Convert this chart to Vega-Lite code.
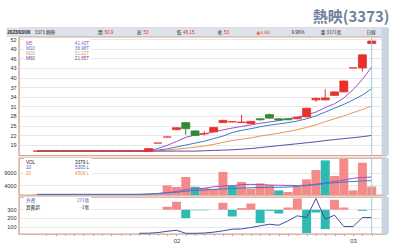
{
"$schema": "https://vega.github.io/schema/vega-lite/v6.json",
"background": "white",
"padding": {"left": 0, "top": 9, "right": 0, "bottom": 0},
"title": {"text": "熱映(3373)", "anchor": "end", "font": "Noto Sans CJK TC", "fontSize": 15, "fontWeight": "bold", "color": "#6f819c", "offset": 2},
"spacing": 2,
"bounds": "flush",
"config": {
  "view": {"stroke": "#d4a48e", "strokeWidth": 1.4},
  "axis": {"labelFont": "Liberation Sans", "labelFontSize": 5.5, "labelColor": "#333333", "gridColor": "#e2e2e2", "gridWidth": 0.8, "labelOverlap": false},
  "text": {"font": "Liberation Sans", "fontSize": 4.6, "baseline": "middle"}
},
"datasets": {"p": [
{"d":0,"o":17,"h":17,"l":17,"c":17,"m5":17,"m10":17,"m20":17,"m60":17,"vol":220,"vd":"up","v10":250,"v20":250,"fx":null,"net":null},
{"d":1,"o":17,"h":17,"l":17,"c":17,"m5":17,"m10":17,"m20":17,"m60":17,"vol":300,"vd":"up","v10":250,"v20":250,"fx":null,"net":null},
{"d":2,"o":17,"h":17,"l":17,"c":17,"m5":17,"m10":17,"m20":17,"m60":17,"vol":180,"vd":"up","v10":250,"v20":250,"fx":null,"net":null},
{"d":3,"o":17,"h":17,"l":17,"c":17,"m5":17,"m10":17,"m20":17,"m60":17,"vol":260,"vd":"up","v10":250,"v20":250,"fx":null,"net":null},
{"d":4,"o":17,"h":17,"l":17,"c":17,"m5":17,"m10":17,"m20":17,"m60":17,"vol":240,"vd":"up","v10":250,"v20":250,"fx":null,"net":null},
{"d":5,"o":17,"h":17,"l":17,"c":17,"m5":17,"m10":17,"m20":17,"m60":17,"vol":200,"vd":"up","v10":250,"v20":250,"fx":null,"net":null},
{"d":6,"o":17,"h":17,"l":17,"c":17,"m5":17,"m10":17,"m20":17,"m60":17,"vol":310,"vd":"up","v10":250,"v20":250,"fx":null,"net":null},
{"d":7,"o":17,"h":17,"l":17,"c":17,"m5":17,"m10":17,"m20":17,"m60":17,"vol":280,"vd":"up","v10":250,"v20":250,"fx":null,"net":null},
{"d":8,"o":17,"h":17,"l":17,"c":17,"m5":17,"m10":17,"m20":17,"m60":17,"vol":230,"vd":"up","v10":250,"v20":250,"fx":null,"net":null},
{"d":9,"o":17,"h":17,"l":17,"c":17,"m5":17,"m10":17,"m20":17,"m60":17,"vol":260,"vd":"up","v10":250,"v20":250,"fx":null,"net":null},
{"d":10,"o":17,"h":17,"l":17,"c":17,"m5":17,"m10":17,"m20":17,"m60":17,"vol":300,"vd":"up","v10":250,"v20":250,"fx":null,"net":null},
{"d":11,"o":17,"h":17,"l":17,"c":17,"m5":17,"m10":17,"m20":17,"m60":17,"vol":250,"vd":"up","v10":260,"v20":260,"fx":22,"net":null},
{"d":12,"o":16.9,"h":17.8,"l":16.9,"c":17.8,"m5":17.2,"m10":17.0,"m20":17.0,"m60":17.0,"vol":300,"vd":"up","v10":350,"v20":400,"fx":23,"net":null},
{"d":13,"o":19.5,"h":19.5,"l":19.5,"c":19.5,"m5":17.8,"m10":17.3,"m20":17.1,"m60":17.0,"vol":420,"vd":"up","v10":600,"v20":600,"fx":30,"net":null},
{"d":14,"o":21.4,"h":21.6,"l":21.3,"c":21.4,"m5":18.8,"m10":17.7,"m20":17.3,"m60":17.0,"vol":3840,"vd":"up","v10":1000,"v20":850,"fx":45,"net":30},
{"d":15,"o":23.7,"h":24.4,"l":23.6,"c":24.3,"m5":20.0,"m10":18.3,"m20":17.6,"m60":17.0,"vol":3200,"vd":"up","v10":1400,"v20":1100,"fx":57,"net":80},
{"d":16,"o":25.9,"h":25.9,"l":22.1,"c":24.0,"m5":21.3,"m10":18.9,"m20":17.9,"m60":17.0,"vol":7200,"vd":"up","v10":2200,"v20":1500,"fx":22,"net":-83},
{"d":17,"o":23.3,"h":23.4,"l":21.8,"c":21.9,"m5":22.0,"m10":19.5,"m20":18.2,"m60":17.0,"vol":3300,"vd":"down","v10":2500,"v20":1800,"fx":22,"net":-5},
{"d":18,"o":22.4,"h":23.2,"l":21.9,"c":22.5,"m5":22.4,"m10":20.1,"m20":18.6,"m60":17.1,"vol":2900,"vd":"up","v10":2650,"v20":2000,"fx":25,"net":-5},
{"d":19,"o":23.0,"h":24.5,"l":22.9,"c":24.4,"m5":23.0,"m10":20.9,"m20":19.1,"m60":17.2,"vol":2500,"vd":"up","v10":3300,"v20":2200,"fx":35,"net":null},
{"d":20,"o":25.9,"h":26.7,"l":25.8,"c":26.6,"m5":23.6,"m10":21.7,"m20":19.7,"m60":17.3,"vol":9200,"vd":"up","v10":3600,"v20":2450,"fx":50,"net":70},
{"d":21,"o":26.1,"h":26.3,"l":26.0,"c":26.2,"m5":24.2,"m10":22.8,"m20":20.3,"m60":17.4,"vol":3840,"vd":"down","v10":3700,"v20":2600,"fx":69,"net":-67},
{"d":22,"o":25.9,"h":28.3,"l":25.9,"c":26.1,"m5":24.7,"m10":23.5,"m20":20.7,"m60":17.6,"vol":5200,"vd":"up","v10":4200,"v20":2750,"fx":72,"net":17},
{"d":23,"o":25.6,"h":26.4,"l":25.5,"c":26.3,"m5":25.2,"m10":24.0,"m20":21.1,"m60":17.8,"vol":2500,"vd":"up","v10":4250,"v20":2900,"fx":88,"net":63},
{"d":24,"o":27.1,"h":27.3,"l":26.5,"c":26.8,"m5":25.7,"m10":24.6,"m20":21.7,"m60":18.1,"vol":4640,"vd":"up","v10":4200,"v20":3000,"fx":108,"net":-133},
{"d":25,"o":28.4,"h":28.7,"l":27.2,"c":27.3,"m5":26.1,"m10":25.1,"m20":22.1,"m60":18.4,"vol":4000,"vd":"up","v10":4000,"v20":3050,"fx":126,"net":-10},
{"d":26,"o":27.1,"h":27.2,"l":26.6,"c":26.7,"m5":26.5,"m10":25.5,"m20":22.6,"m60":18.7,"vol":1840,"vd":"down","v10":3900,"v20":3100,"fx":115,"net":-37},
{"d":27,"o":27.1,"h":27.2,"l":26.6,"c":26.8,"m5":27.1,"m10":25.9,"m20":23.1,"m60":19.0,"vol":1200,"vd":"up","v10":3850,"v20":3200,"fx":165,"net":23},
{"d":28,"o":27.1,"h":27.7,"l":27.0,"c":27.6,"m5":27.6,"m10":26.4,"m20":23.7,"m60":19.3,"vol":3200,"vd":"up","v10":3800,"v20":3400,"fx":223,"net":113},
{"d":29,"o":27.7,"h":30.5,"l":27.6,"c":30.4,"m5":28.3,"m10":27.1,"m20":24.4,"m60":19.6,"vol":6240,"vd":"up","v10":3900,"v20":3800,"fx":203,"net":-233},
{"d":30,"o":33.0,"h":33.7,"l":32.4,"c":33.5,"m5":29.2,"m10":28.0,"m20":25.2,"m60":19.9,"vol":10000,"vd":"up","v10":4300,"v20":4100,"fx":422,"net":-27},
{"d":31,"o":33.0,"h":36.3,"l":32.9,"c":33.6,"m5":30.6,"m10":29.2,"m20":26.2,"m60":20.3,"vol":13840,"vd":"down","v10":4900,"v20":4600,"fx":184,"net":-193},
{"d":32,"o":34.4,"h":35.6,"l":34.3,"c":35.5,"m5":31.8,"m10":30.4,"m20":27.1,"m60":20.6,"vol":7600,"vd":"up","v10":5400,"v20":4900,"fx":230,"net":100},
{"d":33,"o":35.5,"h":39.0,"l":35.4,"c":38.9,"m5":33.6,"m10":31.6,"m20":28.0,"m60":20.9,"vol":14500,"vd":"up","v10":6000,"v20":5200,"fx":100,"net":23},
{"d":34,"o":43.0,"h":43.0,"l":43.0,"c":43.0,"m5":36.2,"m10":33.0,"m20":29.0,"m60":21.2,"vol":1840,"vd":"up","v10":6700,"v20":5400,"fx":100,"net":null},
{"d":35,"o":43.0,"h":47.2,"l":41.9,"c":47.1,"m5":39.4,"m10":34.5,"m20":30.0,"m60":21.5,"vol":12900,"vd":"up","v10":7000,"v20":5650,"fx":203,"net":-10},
{"d":36,"o":50.6,"h":51.4,"l":50.5,"c":51.4,"m5":43.3,"m10":36.5,"m20":31.1,"m60":21.9,"vol":3379,"vd":"up","v10":7200,"v20":5700,"fx":203,"net":-1}
]},
"vconcat": [
{
 "width": 367, "height": 127.5,
 "layer": [
  {"data": {"name": "p"}, "mark": {"type": "rule", "strokeWidth": 1},
   "encoding": {"x": {"field": "d", "type": "quantitative", "scale": {"domain": [-1.4, 37], "zero": false, "nice": false}, "axis": null},
    "y": {"field": "l", "type": "quantitative", "scale": {"domain": [15.625, 55.47], "zero": false, "nice": false},
      "axis": {"orient": "left", "title": null, "values": [19, 22, 25, 28, 31, 34, 37, 40, 43, 46, 49, 52], "tickCount": 40, "labelOverlap": false, "grid": true, "domain": false, "ticks": false, "labelPadding": 3, "minExtent": 18, "maxExtent": 18}},
    "y2": {"field": "h"},
    "stroke": {"value": "transparent"}}},
  {"data": {"values": [{}]}, "mark": {"type": "rect", "color": "white"},
   "encoding": {"x": {"datum": -1.4, "type": "quantitative", "axis": null}, "x2": {"datum": 5.86},
    "y": {"datum": 45.3, "type": "quantitative", "axis": {"title": null, "labelOverlap": false}}, "y2": {"datum": 52.66}}},
  {"data": {"name": "p"}, "transform": [{"fold": ["m5", "m10", "m20", "m60"], "as": ["k", "v"]}],
   "mark": {"type": "line", "strokeWidth": 1},
   "encoding": {"x": {"field": "d", "type": "quantitative", "axis": null},
    "y": {"field": "v", "type": "quantitative", "axis": {"title": null, "labelOverlap": false}},
    "stroke": {"field": "k", "type": "nominal", "scale": {"domain": ["m5", "m10", "m20", "m60"], "range": ["#a052c2", "#3b7cc4", "#ec9455", "#5b4ea5"]}, "legend": null}}},
  {"data": {"name": "p"}, "mark": {"type": "rule", "strokeWidth": 1},
   "encoding": {"x": {"field": "d", "type": "quantitative", "axis": null},
    "y": {"field": "l", "type": "quantitative", "axis": {"title": null, "labelOverlap": false}},
    "y2": {"field": "h"},
    "stroke": {"condition": {"test": "datum.c >= datum.o", "value": "#e8312c"}, "value": "#2f8a3a"}}},
  {"data": {"name": "p"}, "mark": {"type": "bar", "size": 8, "strokeWidth": 0.8},
   "encoding": {"x": {"field": "d", "type": "quantitative", "axis": null},
    "y": {"field": "o", "type": "quantitative", "axis": {"title": null, "labelOverlap": false}},
    "y2": {"field": "c"},
    "fill": {"condition": {"test": "datum.c >= datum.o", "value": "#e8312c"}, "value": "#2f8a3a"},
    "stroke": {"condition": {"test": "datum.c >= datum.o", "value": "#e8312c"}, "value": "#2f8a3a"}}},
  {"data": {"values": [{}]}, "mark": {"type": "rule", "color": "#9ad0e2", "strokeWidth": 1},
   "encoding": {"x": {"datum": 36, "type": "quantitative", "axis": null}}},
  {"data": {"values": [{}]}, "mark": {"type": "rect", "color": "#dde3ec", "clip": false},
   "encoding": {"x": {"datum": -3.28, "type": "quantitative", "axis": null}, "x2": {"datum": 37.84},
    "y": {"datum": 52.66, "type": "quantitative", "axis": {"title": null, "labelOverlap": false}}, "y2": {"datum": 55.6}}},
  {"data": {"values": [{}]}, "mark": {"type": "rule", "color": "#d4a48e", "strokeWidth": 1.2},
   "encoding": {"y": {"datum": 52.66, "type": "quantitative", "axis": {"title": null, "labelOverlap": false}}}},
  {"data": {"values": [{}]}, "mark": {"type": "rect", "color": "#c9d5e3", "clip": false},
   "encoding": {"x": {"datum": 37.07, "type": "quantitative", "axis": null}, "x2": {"datum": 37.84}}},
  {"data": {"values": [{}]}, "mark": {"type": "text", "text": "2023/03/06", "align": "left", "fontWeight": "bold", "color": "#222222"},
   "encoding": {"x": {"datum": -3.2, "type": "quantitative", "axis": null}, "y": {"datum": 54.0, "type": "quantitative", "axis": {"title": null, "labelOverlap": false}}}},
  {"data": {"values": [{}]}, "mark": {"type": "text", "text": "3373 熱映", "align": "left", "font": "Noto Sans CJK TC", "color": "#222222"},
   "encoding": {"x": {"datum": -0.25, "type": "quantitative", "axis": null}, "y": {"datum": 54.0, "type": "quantitative", "axis": {"title": null, "labelOverlap": false}}}},
  {"data": {"values": [{}]}, "mark": {"type": "text", "text": "開", "align": "left", "font": "Noto Sans CJK TC", "color": "#222222"},
   "encoding": {"x": {"datum": 6.55, "type": "quantitative", "axis": null}, "y": {"datum": 54.0, "type": "quantitative", "axis": {"title": null, "labelOverlap": false}}}},
  {"data": {"values": [{}]}, "mark": {"type": "text", "text": "50.9", "align": "left", "color": "#e0302a"},
   "encoding": {"x": {"datum": 7.25, "type": "quantitative", "axis": null}, "y": {"datum": 54.0, "type": "quantitative", "axis": {"title": null, "labelOverlap": false}}}},
  {"data": {"values": [{}]}, "mark": {"type": "text", "text": "高", "align": "left", "font": "Noto Sans CJK TC", "color": "#222222"},
   "encoding": {"x": {"datum": 10.74, "type": "quantitative", "axis": null}, "y": {"datum": 54.0, "type": "quantitative", "axis": {"title": null, "labelOverlap": false}}}},
  {"data": {"values": [{}]}, "mark": {"type": "text", "text": "53", "align": "left", "color": "#e0302a"},
   "encoding": {"x": {"datum": 11.45, "type": "quantitative", "axis": null}, "y": {"datum": 54.0, "type": "quantitative", "axis": {"title": null, "labelOverlap": false}}}},
  {"data": {"values": [{}]}, "mark": {"type": "text", "text": "低", "align": "left", "font": "Noto Sans CJK TC", "color": "#222222"},
   "encoding": {"x": {"datum": 15.03, "type": "quantitative", "axis": null}, "y": {"datum": 54.0, "type": "quantitative", "axis": {"title": null, "labelOverlap": false}}}},
  {"data": {"values": [{}]}, "mark": {"type": "text", "text": "48.15", "align": "left", "color": "#e0302a"},
   "encoding": {"x": {"datum": 15.7, "type": "quantitative", "axis": null}, "y": {"datum": 54.0, "type": "quantitative", "axis": {"title": null, "labelOverlap": false}}}},
  {"data": {"values": [{}]}, "mark": {"type": "text", "text": "收", "align": "left", "font": "Noto Sans CJK TC", "color": "#222222"},
   "encoding": {"x": {"datum": 19.42, "type": "quantitative", "axis": null}, "y": {"datum": 54.0, "type": "quantitative", "axis": {"title": null, "labelOverlap": false}}}},
  {"data": {"values": [{}]}, "mark": {"type": "text", "text": "53", "align": "left", "color": "#e0302a"},
   "encoding": {"x": {"datum": 20.1, "type": "quantitative", "axis": null}, "y": {"datum": 54.0, "type": "quantitative", "axis": {"title": null, "labelOverlap": false}}}},
  {"data": {"values": [{}]}, "mark": {"type": "text", "text": "▲4.80", "align": "left", "font": "DejaVu Sans", "color": "#e8502a"},
   "encoding": {"x": {"datum": 23.6, "type": "quantitative", "axis": null}, "y": {"datum": 54.0, "type": "quantitative", "axis": {"title": null, "labelOverlap": false}}}},
  {"data": {"values": [{}]}, "mark": {"type": "text", "text": "9.96%", "align": "left", "color": "#333333"},
   "encoding": {"x": {"datum": 27.37, "type": "quantitative", "axis": null}, "y": {"datum": 54.0, "type": "quantitative", "axis": {"title": null, "labelOverlap": false}}}},
  {"data": {"values": [{}]}, "mark": {"type": "text", "text": "量 3371張", "align": "left", "font": "Noto Sans CJK TC", "color": "#333333"},
   "encoding": {"x": {"datum": 30.51, "type": "quantitative", "axis": null}, "y": {"datum": 54.0, "type": "quantitative", "axis": {"title": null, "labelOverlap": false}}}},
  {"data": {"values": [{}]}, "mark": {"type": "text", "text": "日線", "align": "left", "font": "Noto Sans CJK TC", "color": "#333333"},
   "encoding": {"x": {"datum": 35.43, "type": "quantitative", "axis": null}, "y": {"datum": 54.0, "type": "quantitative", "axis": {"title": null, "labelOverlap": false}}}},
  {"data": {"values": [{}]}, "mark": {"type": "text", "text": "M5", "align": "left", "color": "#a052c2"},
   "encoding": {"x": {"datum": -1.19, "type": "quantitative", "axis": null}, "y": {"datum": 50.56, "type": "quantitative", "axis": {"title": null, "labelOverlap": false}}}},
  {"data": {"values": [{}]}, "mark": {"type": "text", "text": "41.43T", "align": "right", "color": "#a052c2"},
   "encoding": {"x": {"datum": 5.61, "type": "quantitative", "axis": null}, "y": {"datum": 50.56, "type": "quantitative", "axis": {"title": null, "labelOverlap": false}}}},
  {"data": {"values": [{}]}, "mark": {"type": "text", "text": "M10", "align": "left", "color": "#3b7cc4"},
   "encoding": {"x": {"datum": -1.19, "type": "quantitative", "axis": null}, "y": {"datum": 48.81, "type": "quantitative", "axis": {"title": null, "labelOverlap": false}}}},
  {"data": {"values": [{}]}, "mark": {"type": "text", "text": "36.98T", "align": "right", "color": "#3b7cc4"},
   "encoding": {"x": {"datum": 5.61, "type": "quantitative", "axis": null}, "y": {"datum": 48.81, "type": "quantitative", "axis": {"title": null, "labelOverlap": false}}}},
  {"data": {"values": [{}]}, "mark": {"type": "text", "text": "M20", "align": "left", "color": "#ec9455"},
   "encoding": {"x": {"datum": -1.19, "type": "quantitative", "axis": null}, "y": {"datum": 47.25, "type": "quantitative", "axis": {"title": null, "labelOverlap": false}}}},
  {"data": {"values": [{}]}, "mark": {"type": "text", "text": "31.22T", "align": "right", "color": "#ec9455"},
   "encoding": {"x": {"datum": 5.61, "type": "quantitative", "axis": null}, "y": {"datum": 47.25, "type": "quantitative", "axis": {"title": null, "labelOverlap": false}}}},
  {"data": {"values": [{}]}, "mark": {"type": "text", "text": "M60", "align": "left", "color": "#5b4ea5"},
   "encoding": {"x": {"datum": -1.19, "type": "quantitative", "axis": null}, "y": {"datum": 45.69, "type": "quantitative", "axis": {"title": null, "labelOverlap": false}}}},
  {"data": {"values": [{}]}, "mark": {"type": "text", "text": "21.85T", "align": "right", "color": "#5b4ea5"},
   "encoding": {"x": {"datum": 5.61, "type": "quantitative", "axis": null}, "y": {"datum": 45.69, "type": "quantitative", "axis": {"title": null, "labelOverlap": false}}}}
 ]
},
{
 "width": 367, "height": 37,
 "layer": [
  {"data": {"name": "p"}, "mark": {"type": "bar", "size": 9},
   "encoding": {"x": {"field": "d", "type": "quantitative", "scale": {"domain": [-1.4, 37], "zero": false, "nice": false}, "axis": null},
    "y": {"field": "vol", "type": "quantitative", "scale": {"domain": [0, 14800], "nice": false},
      "axis": {"orient": "left", "title": null, "values": [4000, 9000], "tickCount": 40, "format": "d", "labelOverlap": false, "grid": true, "domain": false, "ticks": false, "labelPadding": 3, "minExtent": 18, "maxExtent": 18}},
    "fill": {"field": "vd", "type": "nominal", "scale": {"domain": ["up", "down"], "range": ["#f58a8a", "#2ebab2"]}, "legend": null}}},
  {"data": {"values": [{}]}, "mark": {"type": "rect", "color": "white"},
   "encoding": {"x": {"datum": -1.4, "type": "quantitative", "axis": null}, "x2": {"datum": 5.86},
    "y": {"datum": 7600, "type": "quantitative", "axis": {"title": null, "labelOverlap": false}}, "y2": {"datum": 14800}}},
  {"data": {"name": "p"}, "transform": [{"fold": ["v10", "v20"], "as": ["k", "v"]}],
   "mark": {"type": "line", "strokeWidth": 1},
   "encoding": {"x": {"field": "d", "type": "quantitative", "axis": null},
    "y": {"field": "v", "type": "quantitative", "axis": {"title": null, "labelOverlap": false}},
    "stroke": {"field": "k", "type": "nominal", "scale": {"domain": ["v10", "v20"], "range": ["#3f4f9e", "#e84a4a"]}, "legend": null}}},
  {"data": {"values": [{}]}, "mark": {"type": "rule", "color": "#9ad0e2", "strokeWidth": 1},
   "encoding": {"x": {"datum": 36, "type": "quantitative", "axis": null}}},
  {"data": {"values": [{}]}, "mark": {"type": "rect", "color": "#c9d5e3", "clip": false},
   "encoding": {"x": {"datum": 37.07, "type": "quantitative", "axis": null}, "x2": {"datum": 37.84}}},
  {"data": {"values": [{}]}, "mark": {"type": "text", "text": "VOL", "align": "left", "color": "#222222"},
   "encoding": {"x": {"datum": -1.19, "type": "quantitative", "axis": null}, "y": {"datum": 13000, "type": "quantitative", "axis": {"title": null, "labelOverlap": false}}}},
  {"data": {"values": [{}]}, "mark": {"type": "text", "text": "3379 L", "align": "right", "color": "#222222"},
   "encoding": {"x": {"datum": 5.61, "type": "quantitative", "axis": null}, "y": {"datum": 13000, "type": "quantitative", "axis": {"title": null, "labelOverlap": false}}}},
  {"data": {"values": [{}]}, "mark": {"type": "text", "text": "10", "align": "left", "color": "#3f5fb5"},
   "encoding": {"x": {"datum": -1.19, "type": "quantitative", "axis": null}, "y": {"datum": 10800, "type": "quantitative", "axis": {"title": null, "labelOverlap": false}}}},
  {"data": {"values": [{}]}, "mark": {"type": "text", "text": "5305 L", "align": "right", "color": "#3f5fb5"},
   "encoding": {"x": {"datum": 5.61, "type": "quantitative", "axis": null}, "y": {"datum": 10800, "type": "quantitative", "axis": {"title": null, "labelOverlap": false}}}},
  {"data": {"values": [{}]}, "mark": {"type": "text", "text": "20", "align": "left", "color": "#ec8a45"},
   "encoding": {"x": {"datum": -1.19, "type": "quantitative", "axis": null}, "y": {"datum": 8600, "type": "quantitative", "axis": {"title": null, "labelOverlap": false}}}},
  {"data": {"values": [{}]}, "mark": {"type": "text", "text": "4509 L", "align": "right", "color": "#ec8a45"},
   "encoding": {"x": {"datum": 5.61, "type": "quantitative", "axis": null}, "y": {"datum": 8600, "type": "quantitative", "axis": {"title": null, "labelOverlap": false}}}}
 ]
},
{
 "width": 367, "height": 37,
 "layer": [
  {"data": {"name": "p"}, "mark": {"type": "bar", "size": 9},
   "encoding": {"x": {"field": "d", "type": "quantitative", "scale": {"domain": [-1.4, 37], "zero": false, "nice": false}, "axis": {"title": null, "labelOverlap": false}},
    "y": {"field": "net", "type": "quantitative", "scale": {"domain": [-242, 128], "nice": false}, "axis": null},
    "fill": {"condition": {"test": "datum.net >= 0", "value": "#f58a8a"}, "value": "#2ebab2"}}},
  {"layer": [
    {"data": {"name": "p"}, "mark": {"type": "line", "strokeWidth": 1, "color": "#3f4f9e"},
     "encoding": {"x": {"field": "d", "type": "quantitative",
       "axis": {"orient": "bottom", "title": null, "values": [1,2,3,4,5,6,7,8,9,10,11,12,13,14,15,16,17,18,19,20,21,22,23,24,25,26,27,28,29,30,31,32,33,34,35,36], "tickCount": 60, "labelExpr": "datum.value == 15 ? '02' : (datum.value == 34 ? '03' : '')", "labelOverlap": false, "labelFlush": false, "domain": false, "ticks": true, "tickSize": 1.5, "tickColor": "#999999", "tickWidth": 0.8, "labelPadding": 2, "labelFontSize": 6, "labelColor": "#444444", "grid": false}},
      "y": {"field": "fx", "type": "quantitative", "scale": {"domain": [13.8, 439.1], "zero": false, "nice": false},
       "axis": {"orient": "left", "title": null, "values": [100, 200, 300], "tickCount": 40, "labelOverlap": false, "grid": true, "domain": false, "ticks": false, "labelPadding": 3, "minExtent": 18, "maxExtent": 18}}}},
    {"data": {"values": [{}]}, "mark": {"type": "rect", "color": "white"},
     "encoding": {"x": {"datum": -1.4, "type": "quantitative", "axis": {"title": null, "labelOverlap": false}}, "x2": {"datum": 5.86},
      "y": {"datum": 290, "type": "quantitative", "axis": {"title": null, "labelOverlap": false}}, "y2": {"datum": 439.1}}},
    {"data": {"values": [{}]}, "mark": {"type": "rule", "color": "#9ad0e2", "strokeWidth": 1},
     "encoding": {"x": {"datum": 36, "type": "quantitative", "axis": {"title": null, "labelOverlap": false}}}},
    {"data": {"values": [{}]}, "mark": {"type": "rect", "color": "#c9d5e3", "clip": false},
     "encoding": {"x": {"datum": 37.07, "type": "quantitative", "axis": {"title": null, "labelOverlap": false}}, "x2": {"datum": 37.84}}},
    {"data": {"values": [{}]}, "mark": {"type": "text", "text": "外資", "align": "left", "font": "Noto Sans CJK TC", "color": "#3f5fb5"},
     "encoding": {"x": {"datum": -1.19, "type": "quantitative", "axis": {"title": null, "labelOverlap": false}}, "y": {"datum": 395, "type": "quantitative", "axis": {"title": null, "labelOverlap": false}}}},
    {"data": {"values": [{}]}, "mark": {"type": "text", "text": "271張", "align": "right", "font": "Noto Sans CJK TC", "color": "#3f5fb5"},
     "encoding": {"x": {"datum": 5.61, "type": "quantitative", "axis": {"title": null, "labelOverlap": false}}, "y": {"datum": 395, "type": "quantitative", "axis": {"title": null, "labelOverlap": false}}}},
    {"data": {"values": [{}]}, "mark": {"type": "text", "text": "買賣超", "align": "left", "font": "Noto Sans CJK TC", "color": "#222222"},
     "encoding": {"x": {"datum": -1.19, "type": "quantitative", "axis": {"title": null, "labelOverlap": false}}, "y": {"datum": 315, "type": "quantitative", "axis": {"title": null, "labelOverlap": false}}}},
    {"data": {"values": [{}]}, "mark": {"type": "text", "text": "-1張", "align": "right", "font": "Noto Sans CJK TC", "color": "#222222"},
     "encoding": {"x": {"datum": 5.61, "type": "quantitative", "axis": {"title": null, "labelOverlap": false}}, "y": {"datum": 315, "type": "quantitative", "axis": {"title": null, "labelOverlap": false}}}}
  ]}
 ],
 "resolve": {"scale": {"y": "independent"}}
}
]
}
